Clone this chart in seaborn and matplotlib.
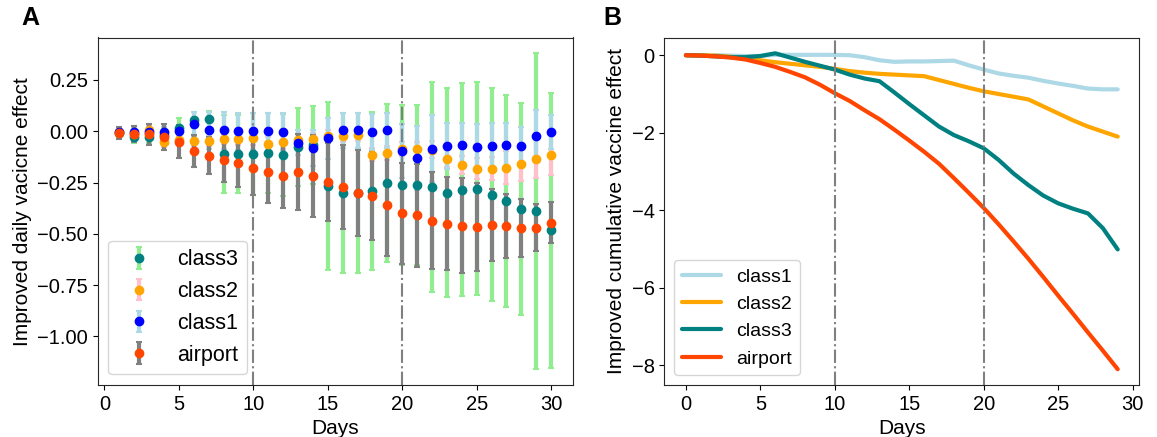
import numpy as np
import pandas as pd
import matplotlib
matplotlib.use("Agg")
import matplotlib.pyplot as plt
import seaborn as sns

# ---------------- data ----------------
days = list(range(1, 31))

airport_daily = [-0.01, -0.014, -0.015, -0.028, -0.05, -0.096, -0.12, -0.138, -0.155, -0.177,
                 -0.20, -0.22, -0.198, -0.22, -0.247, -0.272, -0.30, -0.315, -0.36, -0.40,
                 -0.41, -0.437, -0.45, -0.46, -0.467, -0.457, -0.462, -0.472, -0.47, -0.447]
airport_err = [0.03, 0.04, 0.05, 0.063, 0.08, 0.08, 0.09, 0.11, 0.115, 0.135,
               0.15, 0.155, 0.187, 0.2, 0.19, 0.205, 0.21, 0.215, 0.25, 0.245,
               0.25, 0.236, 0.228, 0.23, 0.216, 0.176, 0.156, 0.141, 0.114, 0.1]

class1_daily = [-0.005, -0.006, -0.003, -0.006, 0.0, 0.034, 0.005, 0.005, -0.001, 0.0,
                0.0, -0.003, -0.055, -0.08, -0.033, 0.005, 0.005, -0.003, 0.005, -0.096,
                -0.13, -0.085, -0.072, -0.068, -0.075, -0.072, -0.065, -0.073, -0.021, -0.003]
class1_err = [0.02, 0.02, 0.025, 0.025, 0.03, 0.06, 0.09, 0.09, 0.09, 0.09,
              0.09, 0.09, 0.06, 0.088, 0.1, 0.086, 0.086, 0.086, 0.086, 0.133,
              0.156, 0.163, 0.114, 0.11, 0.109, 0.11, 0.107, 0.094, 0.123, 0.084]

class2_daily = [-0.005, -0.014, 0.005, -0.052, -0.045, -0.046, -0.046, -0.037, -0.04, -0.035,
                -0.06, -0.052, -0.042, -0.039, -0.024, -0.024, -0.016, -0.114, -0.106, -0.085,
                -0.085, -0.089, -0.133, -0.164, -0.182, -0.182, -0.177, -0.158, -0.133, -0.114]
class2_err = [0.02, 0.02, 0.02, 0.025, 0.025, 0.025, 0.025, 0.025, 0.025, 0.03,
              0.03, 0.033, 0.03, 0.03, 0.03, 0.03, 0.03, 0.03, 0.035, 0.035,
              0.035, 0.04, 0.04, 0.045, 0.05, 0.057, 0.08, 0.085, 0.095, 0.1]

class3_daily = [-0.01, -0.03, -0.03, -0.02, 0.016, 0.054, 0.058, -0.112, -0.11, -0.11,
                -0.106, -0.117, -0.076, -0.068, -0.268, -0.30, -0.30, -0.293, -0.25, -0.26,
                -0.26, -0.272, -0.30, -0.284, -0.28, -0.309, -0.34, -0.377, -0.39, -0.483]
class3_err = [0.02, 0.025, 0.025, 0.03, 0.05, 0.04, 0.04, 0.19, 0.19, 0.2,
              0.195, 0.2, 0.19, 0.19, 0.41, 0.39, 0.39, 0.385, 0.385, 0.39,
              0.39, 0.51, 0.51, 0.52, 0.52, 0.52, 0.515, 0.517, 0.77, 0.67]

cum_days = list(range(0, 30))
class1_cum = [0.0, 0.0, 0.0, -0.01, -0.02, -0.02, 0.01, 0.01, 0.01, 0.01,
              0.01, 0.0, -0.05, -0.13, -0.17, -0.16, -0.16, -0.15, -0.14, -0.26,
              -0.37, -0.47, -0.53, -0.58, -0.66, -0.73, -0.79, -0.86, -0.88, -0.88]
class2_cum = [0.0, 0.0, -0.01, -0.04, -0.09, -0.13, -0.18, -0.22, -0.26, -0.30,
              -0.35, -0.41, -0.45, -0.48, -0.50, -0.52, -0.54, -0.64, -0.74, -0.84,
              -0.93, -1.0, -1.07, -1.14, -1.32, -1.50, -1.68, -1.84, -1.97, -2.10]
class3_cum = [0.0, -0.01, -0.03, -0.05, -0.05, -0.02, 0.05, -0.06, -0.17, -0.27,
              -0.37, -0.50, -0.60, -0.67, -0.96, -1.26, -1.55, -1.84, -2.06, -2.22,
              -2.40, -2.70, -3.05, -3.35, -3.62, -3.82, -3.96, -4.08, -4.46, -5.01]
airport_cum = [0.0, -0.01, -0.03, -0.06, -0.11, -0.20, -0.30, -0.43, -0.57, -0.76,
               -0.98, -1.18, -1.42, -1.65, -1.92, -2.20, -2.49, -2.80, -3.17, -3.55,
               -3.94, -4.36, -4.80, -5.25, -5.72, -6.20, -6.67, -7.15, -7.62, -8.10]

marker_days = [10, 20]

# ---------------- style ----------------
sns.set_style("ticks")
plt.rcParams["font.family"] = ["Liberation Sans", "DejaVu Sans"]
plt.rcParams["font.size"] = 14
for k in ("text.color", "axes.labelcolor", "xtick.color", "ytick.color"):
    plt.rcParams[k] = "black"

fig = plt.figure(figsize=(11.57, 4.37), dpi=100)
axA = fig.add_axes([97.7 / 1157, 1 - 385 / 437, 475 / 1157, 347.5 / 437])
axB = fig.add_axes([664.3 / 1157, 1 - 385 / 437, 475 / 1157, 347.5 / 437])

# ---------------- panel A ----------------
series_A = [
    ("class3", class3_daily, class3_err, "teal", "lightgreen"),
    ("class2", class2_daily, class2_err, "orange", "pink"),
    ("class1", class1_daily, class1_err, "blue", "lightblue"),
    ("airport", airport_daily, airport_err, "orangered", "gray"),
]
for name, vals, errs, mc, ec in series_A:
    axA.errorbar(days, vals, yerr=errs, fmt="o", color=mc, ecolor=ec,
                 elinewidth=3, capsize=2.5, capthick=1.5, markersize=6, label=name)
for xv in marker_days:
    axA.axvline(xv, color="gray", linestyle="-.", linewidth=1.5)
axA.set_xlabel("Days", fontsize=15)
axA.set_ylabel("Improved daily vacicne effect", fontsize=15)
axA.set_yticks([0.25, 0.0, -0.25, -0.5, -0.75, -1.0])
axA.set_xticks([0, 5, 10, 15, 20, 25, 30])
axA.tick_params(labelsize=14.5)
axA.legend(loc="lower left", fontsize=15.5)

# ---------------- panel B ----------------
dfB = pd.DataFrame({
    "Days": cum_days * 4,
    "value": class1_cum + class2_cum + class3_cum + airport_cum,
    "group": ["class1"] * 30 + ["class2"] * 30 + ["class3"] * 30 + ["airport"] * 30,
})
sns.lineplot(data=dfB, x="Days", y="value", hue="group",
             palette={"class1": "lightblue", "class2": "orange",
                      "class3": "teal", "airport": "orangered"},
             linewidth=3, ax=axB)
for xv in marker_days:
    axB.axvline(xv, color="gray", linestyle="-.", linewidth=1.5)
axB.set_xlabel("Days", fontsize=15)
axB.set_ylabel("Improved cumulative vaccine effect", fontsize=15)
axB.set_xticks([0, 5, 10, 15, 20, 25, 30])
axB.set_yticks([0, -2, -4, -6, -8])
axB.tick_params(labelsize=14.5)
axB.legend(loc="lower left", fontsize=14, title=None)

for ax in (axA, axB):
    for sp in ax.spines.values():
        sp.set_visible(True)

fig.text(30 / 1157, 1 - 18 / 437, "A", fontsize=18, fontweight="bold", ha="center", va="center")
fig.text(612 / 1157, 1 - 18 / 437, "B", fontsize=18, fontweight="bold", ha="center", va="center")

fig.savefig("out.png", dpi=100)
